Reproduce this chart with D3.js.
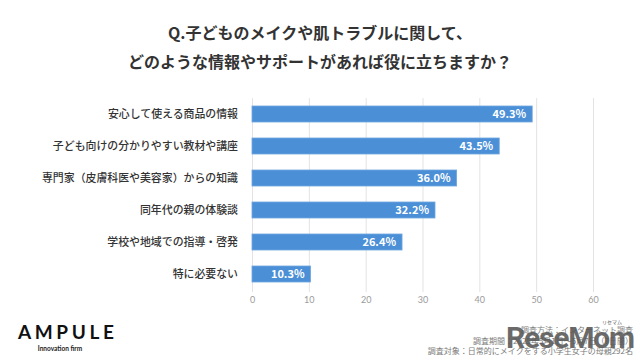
<!DOCTYPE html>
<html>
<head>
<meta charset="utf-8">
<script src="https://cdn.jsdelivr.net/npm/d3@7/dist/d3.min.js"></script>
<style>
  body { margin: 0; background: #fff; }
  text { font-family: "Noto Sans CJK JP", "Noto Sans", sans-serif; }
</style>
</head>
<body>
<div id="content"></div>
<script>
var categories = [
    "安心して使える商品の情報",
    "子ども向けの分かりやすい教材や講座",
    "専門家（皮膚科医や美容家）からの知識",
    "同年代の親の体験談",
    "学校や地域での指導・啓発",
    "特に必要ない"
];
var values = [49.3, 43.5, 36.0, 32.2, 26.4, 10.3];
var ticks = [0, 10, 20, 30, 40, 50, 60];

var titleLines = [
    "Q.子どものメイクや肌トラブルに関して、",
    "どのような情報やサポートがあれば役に立ちますか？"
];
var footerLines = [
    "調査方法：インターネット調査",
    "調査期間：2025年5月1日～5月7日（7日間）",
    "調査対象：日常的にメイクをする小学生女子の母親292名"
];

var w = 640;
var h = 360;

var svg = d3.select("#content")
    .append("svg")
    .attr("width", w)
    .attr("height", h);

var x = d3.scaleLinear()
    .domain([0, 60])
    .range([252, 593]);

var y = d3.scaleBand()
    .domain(categories)
    .range([98, 290])
    .paddingInner(0.5)
    .paddingOuter(0.25);

// title
svg.append("g")
    .selectAll("text")
    .data(titleLines)
    .enter()
    .append("text")
    .attr("x", 320)
    .attr("y", function(d, i) { return 39 + i * 29; })
    .attr("text-anchor", "middle")
    .attr("font-size", 16)
    .attr("font-weight", "bold")
    .attr("fill", "#333")
    .text(function(d) { return d; });

// grid + x axis
var xAxis = d3.axisBottom(x)
    .tickValues(ticks)
    .tickSize(-(290 - 96))
    .tickFormat(d3.format("d"));

var gx = svg.append("g")
    .attr("transform", "translate(0,292)")
    .call(xAxis);
gx.select(".domain").remove();
gx.selectAll(".tick line")
    .attr("stroke", "#e3e3e3");
gx.selectAll(".tick text")
    .attr("fill", "#9a9a9a")
    .attr("font-size", 9)
    .attr("dy", "0.9em")
    .style("font-family", "Lato, 'Noto Sans', sans-serif");

// bars
svg.append("g")
    .selectAll("rect")
    .data(values)
    .enter()
    .append("rect")
    .attr("x", x(0))
    .attr("y", function(d, i) { return y(categories[i]); })
    .attr("width", function(d) { return x(d) - x(0); })
    .attr("height", y.bandwidth())
    .attr("fill", "#4b8fd7")
    .attr("stroke", "#6fa6df")
    .attr("stroke-width", 0.8);

// value labels
svg.append("g")
    .selectAll("text")
    .data(values)
    .enter()
    .append("text")
    .attr("x", function(d) { return x(d) - 6; })
    .attr("y", function(d, i) { return y(categories[i]) + y.bandwidth() / 2; })
    .attr("dy", "0.36em")
    .attr("text-anchor", "end")
    .attr("font-size", 11)
    .attr("font-weight", "bold")
    .attr("fill", "#fff")
    .text(function(d) { return d.toFixed(1) + "%"; });

// category labels
svg.append("g")
    .selectAll("text")
    .data(categories)
    .enter()
    .append("text")
    .attr("x", 238)
    .attr("y", function(d) { return y(d) + y.bandwidth() / 2; })
    .attr("dy", "0.36em")
    .attr("text-anchor", "end")
    .attr("font-size", 10.9)
    .attr("font-weight", 500)
    .attr("fill", "#333")
    .text(function(d) { return d; });

// logo
svg.append("text")
    .attr("x", 18)
    .attr("y", 339)
    .attr("font-size", 19)
    .attr("font-weight", "bold")
    .attr("letter-spacing", 3.6)
    .attr("fill", "#111")
    .style("font-family", "Lato, Roboto, sans-serif")
    .text("AMPULE");
svg.append("text")
    .attr("x", 60)
    .attr("y", 351)
    .attr("text-anchor", "middle")
    .attr("font-size", 6.5)
    .attr("font-weight", "bold")
    .attr("fill", "#222")
    .style("font-family", "Lato, Roboto, sans-serif")
    .text("Innovation firm");

// footer notes
svg.append("g")
    .selectAll("text")
    .data(footerLines)
    .enter()
    .append("text")
    .attr("x", 633)
    .attr("y", function(d, i) { return 333 + i * 10.5; })
    .attr("text-anchor", "end")
    .attr("font-size", 8)
    .attr("fill", "#7a7a7a")
    .text(function(d) { return d; });

// watermark
svg.append("text")
    .attr("x", 570)
    .attr("y", 348)
    .attr("text-anchor", "middle")
    .attr("font-size", 30)
    .attr("font-weight", "bold")
    .attr("fill", "#5a5a5a")
    .attr("opacity", 0.9)
    .attr("letter-spacing", -1.2)
    .style("font-family", "Roboto, 'Liberation Sans', sans-serif")
    .text("ReseMom");
svg.append("text")
    .attr("x", 612)
    .attr("y", 324)
    .attr("text-anchor", "middle")
    .attr("font-size", 5)
    .attr("fill", "#555")
    .text("リセマム");
</script>
</body>
</html>
